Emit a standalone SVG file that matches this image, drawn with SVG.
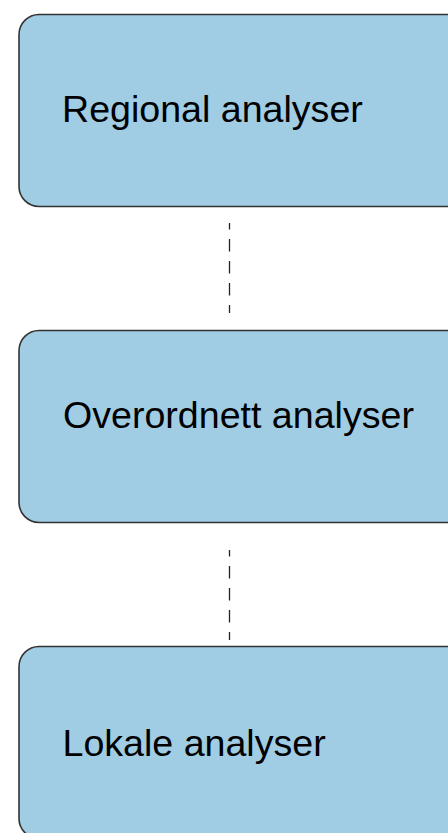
<svg xmlns="http://www.w3.org/2000/svg" width="448" height="833" viewBox="0 0 448 833">
  <style>
    .box { fill: #a0cde3; stroke: #333333; stroke-width: 1.6; }
    .label { font-family: "Liberation Sans", Arial, sans-serif; font-size: 37.6px; fill: #000000; }
    .link { stroke: #222222; stroke-width: 1.3; stroke-dasharray: 12.5 9.5; stroke-dashoffset: 6; fill: none; }
  </style>
  <rect width="448" height="833" fill="#ffffff"/>

  <g id="connectors">
    <line class="link" x1="229.5" y1="223" x2="229.5" y2="313"/>
    <line class="link" x1="229.5" y1="550" x2="229.5" y2="640"/>
  </g>

  <g id="regional">
    <rect class="box" x="19" y="14.5" width="450" height="192" rx="20" ry="20"/>
    <text class="label" x="62" y="121.7">Regional analyser</text>
  </g>

  <g id="overordnett">
    <rect class="box" x="19" y="330.5" width="450" height="192" rx="20" ry="20"/>
    <text class="label" x="63" y="427.7">Overordnett analyser</text>
  </g>

  <g id="lokale">
    <rect class="box" x="19" y="646.5" width="450" height="192" rx="20" ry="20"/>
    <text class="label" x="62.5" y="756">Lokale analyser</text>
  </g>
</svg>
